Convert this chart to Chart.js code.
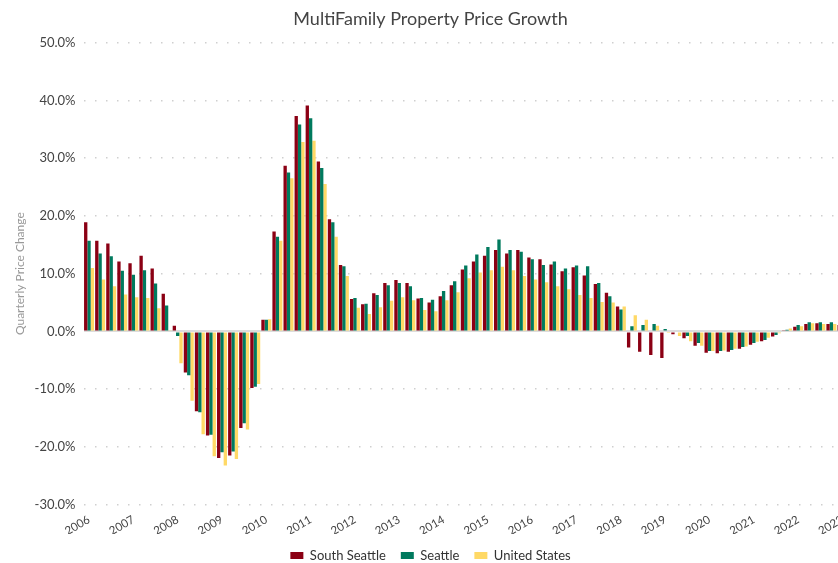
<!DOCTYPE html>
<html>
<head>
<meta charset="utf-8">
<script src="https://cdn.jsdelivr.net/npm/chart.js@4.4.1/dist/chart.umd.min.js"></script>
<style>
  html, body { margin: 0; padding: 0; background: #fff; overflow: hidden; }
  #wrap { width: 860px; height: 563px; }
</style>
</head>
<body>
<div id="wrap"><canvas id="chart" width="860" height="563"></canvas></div>
<script>
// quarters 2006 Q1 .. 2023 Q1
let years = [2006, 2007, 2008, 2009, 2010, 2011, 2012, 2013, 2014, 2015, 2016, 2017, 2018, 2019, 2020, 2021, 2022, 2023];
let quarters = [];
years.forEach(function(y) {
  for (let q = 1; q <= 4; q++) {
    if (y == 2023 && q > 1) { break; }
    quarters.push(y + " Q" + q);
  }
});

// quarterly price change, %
let southSeattle = [
  18.9, 15.7, 15.2, 12.1, 11.8, 13.1, 10.9, 6.5,
  1.0, -7.1, -13.8, -18.0, -21.9, -21.5, -16.7, -9.8,
  2.0, 17.3, 28.7, 37.3, 39.1, 29.4, 19.4, 11.5,
  5.6, 4.7, 6.6, 8.4, 8.9, 8.4, 5.7, 5.0,
  6.1, 8.0, 10.7, 12.1, 13.1, 14.1, 13.5, 14.1,
  12.8, 12.5, 11.6, 10.4, 11.1, 9.7, 8.2, 6.7,
  4.3, -2.8, -3.5, -4.1, -4.6, -0.5, -1.2, -2.5,
  -3.7, -3.8, -3.5, -3.0, -2.3, -1.7, -0.9, 0.1,
  0.8, 1.3, 1.4, 1.3, 1.1
];
let seattle = [
  15.7, 13.5, 13.0, 10.5, 9.8, 10.6, 8.3, 4.5,
  -0.8, -7.6, -14.0, -17.9, -20.9, -20.8, -15.9, -9.6,
  2.0, 16.4, 27.5, 35.8, 36.9, 28.3, 18.9, 11.3,
  5.8, 4.8, 6.3, 8.0, 8.4, 7.8, 5.8, 5.5,
  7.0, 8.7, 11.4, 13.3, 14.6, 15.9, 14.1, 13.8,
  12.5, 11.5, 12.1, 10.9, 11.4, 11.3, 8.4, 6.1,
  3.8, 0.9, 1.1, 1.3, 0.4, 0.0, -0.8, -2.0,
  -3.4, -3.4, -3.2, -2.7, -2.0, -1.5, -0.6, 0.3,
  1.1, 1.6, 1.6, 1.6, 1.5
];
let unitedStates = [
  11.0, 9.0, 7.8, 6.4, 5.9, 5.8, 4.0, 0.2,
  -5.5, -12.0, -17.8, -21.6, -23.2, -22.1, -17.0, -9.1,
  2.1, 15.7, 26.5, 32.8, 33.0, 25.5, 16.4, 9.6,
  4.1, 3.0, 4.2, 5.3, 5.9, 5.4, 3.7, 3.5,
  5.4, 6.8, 9.2, 10.2, 10.6, 11.2, 10.6, 9.6,
  9.0, 8.5, 7.8, 7.3, 6.3, 5.8, 5.1, 5.0,
  4.3, 2.8, 2.0, 1.0, -0.1, -0.8, -1.7, -2.5,
  -3.4, -3.3, -3.0, -2.6, -1.8, -1.1, -0.3, 0.5,
  0.9, 1.4, 1.3, 1.3, 1.3
];

let seriesNames = ["South Seattle", "Seattle", "United States"];
let seriesColors = ['rgb(139, 0, 20)', 'rgb(0, 122, 94)', 'rgb(255, 217, 102)'];

let fontName = "Lato, 'Open Sans', sans-serif";

let ctx = document.getElementById('chart');
let chart = new Chart(ctx, {
  type: 'bar',
  data: {
    labels: quarters,
    datasets: [southSeattle, seattle, unitedStates].map(function(values, i) {
      return {
        label: seriesNames[i],
        data: values,
        backgroundColor: seriesColors[i],
        borderWidth: 0,
        categoryPercentage: 0.9,
        barPercentage: 1.0
      };
    })
  },
  options: {
    responsive: false,
    animation: false,
    layout: { padding: { left: 13, right: 12, top: 0, bottom: -9 } },
    plugins: {
      title: {
        display: true,
        text: 'MultiFamily Property Price Growth',
        color: '#444',
        font: { family: fontName, size: 18, weight: 'normal' },
        padding: { top: 8, bottom: 13 }
      },
      legend: {
        position: 'bottom',
        labels: {
          color: '#333',
          font: { family: fontName, size: 13 },
          boxWidth: 13,
          boxHeight: 7,
          padding: 15
        }
      },
      tooltip: { enabled: false }
    },
    scales: {
      x: {
        grid: { display: false },
        border: { display: false },
        afterFit: function(scale) { scale.height = scale.height - 4; },
        ticks: {
          autoSkip: false,
          minRotation: 30,
          maxRotation: 30,
          color: '#444',
          padding: 0,
          font: { family: fontName, size: 11.5 },
          callback: function(value, index) {
            return index % 4 == 0 ? quarters[index].slice(0, 4) : '';
          }
        }
      },
      y: {
        min: -30,
        max: 50,
        afterFit: function(scale) { scale.width = 70.5; },
        ticks: {
          stepSize: 10,
          color: '#444',
          padding: 8,
          font: { family: fontName, size: 13 },
          callback: function(value) { return value.toFixed(1) + '%'; }
        },
        title: {
          display: true,
          text: 'Quarterly Price Change',
          color: '#999',
          font: { family: fontName, size: 12 },
          padding: 0
        },
        grid: {
          drawTicks: false,
          color: function(c) { return c.tick && c.tick.value == 0 ? '#dcdcdc' : '#cfcfcf'; },
          lineWidth: function(c) { return c.tick && c.tick.value == 0 ? 2 : 1.5; }
        },
        border: {
          display: false,
          dash: function(c) { return c.tick && c.tick.value == 0 ? [] : [1.5, 9.5]; }
        }
      }
    }
  }
});
</script>
</body>
</html>
